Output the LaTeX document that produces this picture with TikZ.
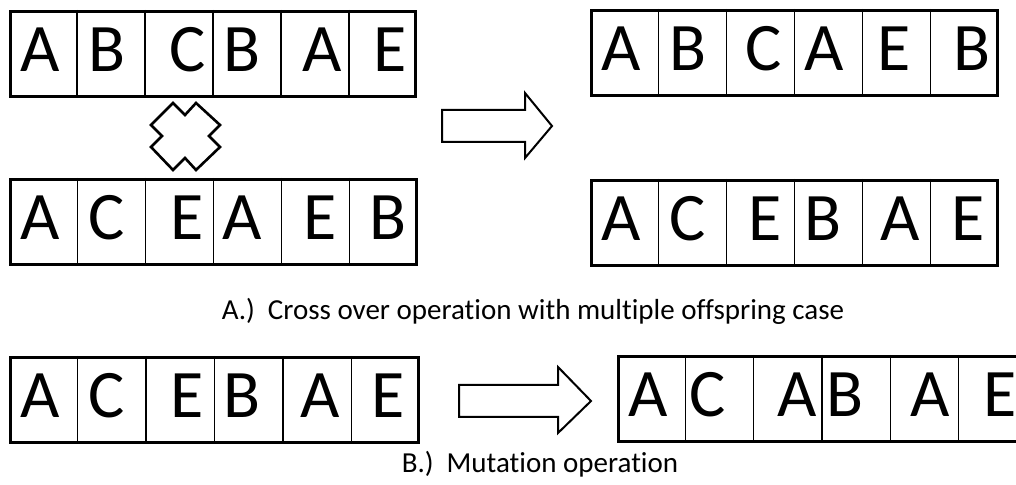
\documentclass[tikz,border=0pt]{standalone}
\usepackage{fontspec}
\setmainfont{Carlito}[Ligatures={TeX,NoCommon}]
\usetikzlibrary{calc}
\begin{document}
\begin{tikzpicture}[x=0.5pt,y=-0.5pt,
  chromosome/.style={draw, line width=1.5pt, rectangle, inner sep=0pt,
    minimum height=42.5pt, anchor=north west},
  divider/.style={line width=0.65pt},
  gene/.style={font=\fontsize{34}{34}\selectfont, inner sep=0pt, anchor=base},
  caption/.style={font=\fontsize{14.5}{17}\selectfont, inner sep=0pt, anchor=base},
  blockarrow/.style={draw, line width=1pt, line join=miter, fill=white},
  crossmark/.style={draw, line width=1.3pt, line join=miter, fill=white}]
\useasboundingbox (0,0) rectangle (1016,485);
\clip (0,0) rectangle (1016,485);

% chromosome frames
\node[chromosome, minimum width=202.5pt] (p1) at (9,10)   {};
\node[chromosome, minimum width=203pt]   (o1) at (590,9)  {};
\node[chromosome, minimum width=203pt]   (p2) at (9,178)  {};
\node[chromosome, minimum width=203pt]   (o2) at (590,179){};
\node[chromosome, minimum width=204pt]   (m0) at (9,356)  {};
\node[chromosome, minimum width=203.5pt] (m1) at (617,355){};

% cell dividers
\foreach \r in {p1,o1,p2,o2,m0,m1}{
  \foreach \i in {1,...,5}{
    \draw[divider] ($(\r.north west)!\i/6!(\r.north east)$) --
                   ($(\r.south west)!\i/6!(\r.south east)$);
  }
}

% genes: parent 1
\foreach \g/\x [count=\k] in {A/40,B/107,C/188,B/242,A/322,E/390}
  \node[gene] (p1-\k) at (\x,72) {\g};
% genes: offspring 1
\foreach \g/\x [count=\k] in {A/621,B/688,C/764,A/824,E/894,B/972}
  \node[gene] (o1-\k) at (\x,71) {\g};
% genes: parent 2
\foreach \g/\x [count=\k] in {A/40,C/107,E/187,A/242,E/320,B/388}
  \node[gene] (p2-\k) at (\x,240) {\g};
% genes: offspring 2
\foreach \g/\x [count=\k] in {A/621,C/688,E/765,B/823,A/900,E/968}
  \node[gene] (o2-\k) at (\x,241) {\g};
% genes: before mutation
\foreach \g/\x [count=\k] in {A/40,C/107,E/187,B/242,A/320,E/388}
  \node[gene] (m0-\k) at (\x,418) {\g};
% genes: after mutation
\foreach \g/\x [count=\k] in {A/648,C/708,A/797,B/845,A/930,E/1000}
  \node[gene] (m1-\k) at (\x,417) {\g};

% crossover symbol
\draw[crossmark] (173,103) -- (185,115) -- (196,103) -- (220,125) -- (209,136)
  -- (220,147) -- (196,170) -- (185,158) -- (173,170) -- (151,147) -- (162,136)
  -- (151,125) -- cycle;

% block arrows
\draw[blockarrow] (442,110) -- (525,110) -- (525,93) -- (552,126) -- (525,158)
  -- (525,142) -- (442,142) -- cycle;
\draw[blockarrow] (459,385) -- (558,385) -- (558,367) -- (591,401) -- (558,433)
  -- (558,417) -- (459,417) -- cycle;

% captions
\node[caption] (capA) at (533,320)
  {A.)\hspace{0.45em}Cross over operation with multiple offspring case};
\node[caption] (capB) at (540,473)
  {B.)\hspace{0.45em}Mutation operation};
\end{tikzpicture}
\end{document}
